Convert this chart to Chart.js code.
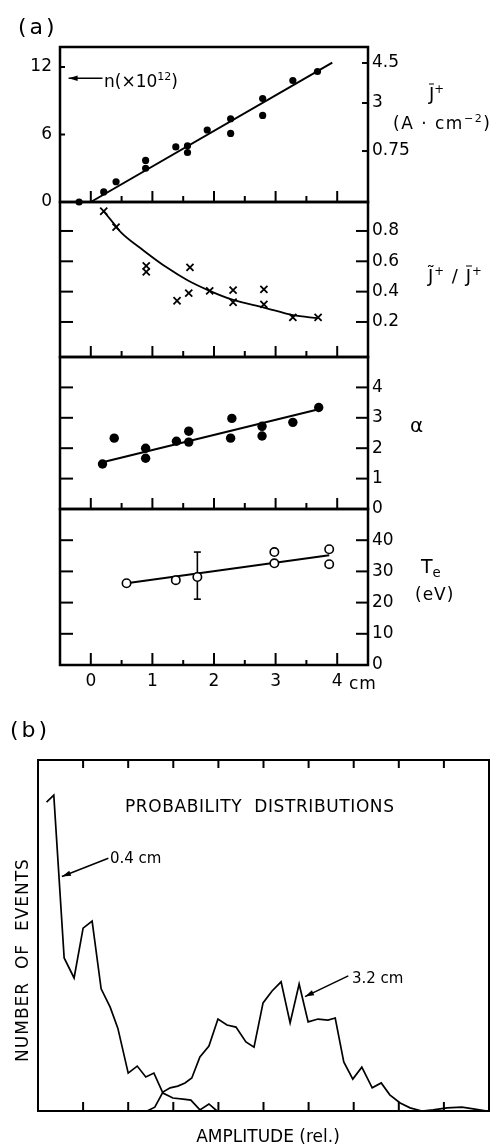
<!DOCTYPE html>
<html><head><meta charset="utf-8">
<script src="https://cdn.jsdelivr.net/npm/chart.js@4.4.1/dist/chart.umd.min.js"></script>
<style>
html,body{margin:0;padding:0;background:#fff}
body{position:relative;width:496px;height:1146px;overflow:hidden;font-family:'DejaVu Sans',sans-serif;color:#000}
canvas{position:absolute;left:0}
.lb{position:absolute;white-space:nowrap;line-height:1;transform:translateY(-50%)}
.lb sup{font-size:0.65em;vertical-align:0.55em;line-height:0}
.lb sub{font-size:0.7em;vertical-align:-0.35em;line-height:0}
.ob{display:inline-block;border-top:1.5px solid #000;padding-top:1px;line-height:0.9}
</style></head><body>
<canvas id="p1" width="496" height="195" style="top:27px"></canvas>
<canvas id="p2" width="496" height="195" style="top:182px"></canvas>
<canvas id="p3" width="496" height="192" style="top:337px"></canvas>
<canvas id="p4" width="496" height="211" style="top:489px"></canvas>
<canvas id="pb" width="496" height="406" style="top:740px"></canvas>

<div class="lb" style="left:18px;top:27px;font-size:22px;letter-spacing:3px">(a)</div>
<div class="lb" style="left:104px;top:81px;font-size:17px">n(×10<sup>12</sup>)</div>
<div class="lb" style="left:429px;top:93px;font-size:18px"><span class="ob">J</span><sup>+</sup></div>
<div class="lb" style="left:393px;top:123px;font-size:17px;letter-spacing:1.5px">(A · cm<sup>−2</sup>)</div>
<div class="lb" style="left:428px;top:275px;font-size:18px;letter-spacing:1px">J̃<sup>+</sup> / <span class="ob">J</span><sup>+</sup></div>
<div class="lb" style="left:410px;top:425px;font-size:20px">α</div>
<div class="lb" style="left:421px;top:566px;font-size:19px">T<sub>e</sub></div>
<div class="lb" style="left:415px;top:594px;font-size:17px;letter-spacing:1px">(eV)</div>
<div class="lb" style="left:349px;top:683px;font-size:17px;letter-spacing:1px">cm</div>

<div class="lb" style="left:10px;top:730px;font-size:22px;letter-spacing:3px">(b)</div>
<div class="lb" style="left:125px;top:806px;font-size:17px;letter-spacing:0.6px">PROBABILITY&nbsp; DISTRIBUTIONS</div>
<div class="lb" style="left:110px;top:858px;font-size:15px">0.4 cm</div>
<div class="lb" style="left:352px;top:978px;font-size:15px">3.2 cm</div>
<div class="lb" style="left:22px;top:960px;font-size:17px;letter-spacing:1px;transform:translate(-50%,-50%) rotate(-90deg)">NUMBER&nbsp; OF&nbsp; EVENTS</div>
<div class="lb" style="left:268px;top:1136px;font-size:17px;transform:translate(-50%,-50%)">AMPLITUDE (rel.)</div>

<script>
// ================= DATA =================
// Panel (a): radial position (cm)
const xRange = [-0.5, 4.5];
const xMajorTicks = [0, 1, 2, 3, 4];
const xMinorTicks = [0.5, 1.5, 2.5, 3.5];
const xTickLabels = ['0', '1', '2', '3', '4'];

// density n (x10^12)
const nPosX   = [-0.19, 0.21, 0.41, 0.89, 0.89, 1.38, 1.57, 1.57, 1.89, 2.27, 2.27, 2.79, 2.79, 3.28, 3.68];
const nValues = [0, 0.9, 1.8, 3.7, 3.0, 4.9, 5.0, 4.4, 6.4, 7.4, 6.1, 9.2, 7.7, 10.8, 11.6];
const nFitX = [0, 3.92];
const nFitY = [0, 12.4];
const nRange = [0, 13.78];
const nTicks = [0, 6, 12];
const nTickLabels = ['0', '6', '12'];
const jTickAt = [12.36, 8.8, 4.53];
const jTickLabels = ['4.5', '3', '0.75'];

// fluctuation ratio J~/J
const ratioX = [0.21, 0.41, 0.90, 0.90, 1.40, 1.59, 1.61, 1.93, 2.31, 2.31, 2.81, 2.81, 3.28, 3.69];
const ratioY = [0.93, 0.825, 0.57, 0.53, 0.34, 0.39, 0.56, 0.405, 0.41, 0.33, 0.415, 0.316, 0.23, 0.23];
const ratioCurveX = [0.21, 0.41, 0.49, 0.86, 1.23, 1.57, 1.93, 2.31, 2.81, 3.28, 3.69];
const ratioCurveY = [0.93, 0.83, 0.79, 0.67, 0.56, 0.475, 0.405, 0.345, 0.295, 0.245, 0.225];
const ratioRange = [-0.031, 0.991];
const ratioTicks = [0.2, 0.4, 0.6, 0.8];
const ratioTickLabels = ['0.2', '0.4', '0.6', '0.8'];

// alpha
const alphaX = [0.19, 0.38, 0.89, 0.89, 1.39, 1.59, 1.59, 2.29, 2.27, 2.78, 2.78, 3.28, 3.70];
const alphaY = [1.48, 2.33, 2.0, 1.67, 2.23, 2.56, 2.2, 2.98, 2.33, 2.72, 2.4, 2.85, 3.34];
const alphaFitX = [0.19, 3.70];
const alphaFitY = [1.54, 3.28];
const alphaRange = [0, 5];
const alphaTicks = [0, 1, 2, 3, 4];
const alphaTickLabels = ['0', '1', '2', '3', '4'];

// electron temperature Te (eV)
const teX = [0.58, 1.38, 1.73, 2.98, 2.98, 3.87, 3.87];
const teY = [26.2, 27.2, 28.2, 32.6, 36.2, 37.1, 32.3];
const teErrX = [1.73, 1.73];
const teErrY = [21.1, 36.2];
const teFitX = [0.58, 3.87];
const teFitY = [26.2, 35.2];
const teRange = [0, 50];
const teTicks = [0, 10, 20, 30, 40];
const teTickLabels = ['0', '10', '20', '30', '40'];

// Panel (b): probability distributions
const ampRange = [0, 10];
const countRange = [0, 100];
const ampTicks = [1, 2, 3, 4, 5, 6, 7, 8, 9];
const amp04X = [0.19, 0.35, 0.58, 0.80, 1.0, 1.2, 1.40, 1.60, 1.77, 2.0, 2.2, 2.39, 2.57, 2.77, 2.99, 3.22, 3.39, 3.59, 3.79, 3.97];
const amp04Y = [88, 90, 43.6, 37.9, 52.1, 54.1, 34.8, 29.6, 23.6, 10.8, 12.8, 9.7, 10.8, 5.1, 3.7, 3.4, 3.1, 0.3, 2.0, 0];
const amp32X = [2.42, 2.59, 2.77, 2.93, 3.10, 3.26, 3.41, 3.59, 3.79, 3.99, 4.19, 4.39, 4.61, 4.79, 4.99, 5.19, 5.39, 5.59, 5.79, 5.99, 6.21, 6.43, 6.59, 6.78, 6.98, 7.18, 7.41, 7.61, 7.80, 8.03, 8.25, 8.51, 8.76, 9.07, 9.40, 9.65, 9.96];
const amp32Y = [0, 1.1, 5.4, 6.6, 7.1, 8.0, 9.4, 15.4, 18.5, 26.2, 24.5, 23.9, 19.7, 18.2, 30.8, 34.2, 36.8, 25.1, 36.2, 25.4, 26.2, 25.9, 26.5, 14.0, 9.1, 12.5, 6.6, 8.0, 4.6, 2.3, 0.9, 0, 0.3, 0.9, 1.1, 0.6, 0];

// annotation arrows (data units)
const nArrowFrom = [0.19, 11.0], nArrowTo = [-0.36, 11.0];
const arrow04From = [1.56, 72.0], arrow04To = [0.53, 66.8];
const arrow32From = [6.88, 38.5], arrow32To = [5.92, 32.6];

// ================= CHARTS =================
Chart.defaults.font.family = "'DejaVu Sans', sans-serif";
Chart.defaults.color = '#000';
const pts = (xs, ys) => xs.map((x, i) => ({x, y: ys[i]}));

const frameCfg = {};
Chart.register({
  id: 'frame',
  afterDatasetsDraw(chart) {
    const c = frameCfg[chart.canvas.id]; if (!c) return;
    const ctx = chart.ctx, a = chart.chartArea, xs = chart.scales.x, ys = chart.scales.y;
    ctx.save();
    ctx.strokeStyle = '#000'; ctx.fillStyle = '#000'; ctx.lineCap = 'butt';
    const seg = (x1, y1, x2, y2) => { ctx.beginPath(); ctx.moveTo(x1, y1); ctx.lineTo(x2, y2); ctx.stroke(); };
    ctx.lineWidth = c.tickWidth;
    (c.left || []).forEach(([vals, len]) => vals.forEach(v => { const y = ys.getPixelForValue(v); seg(a.left, y, a.left + len, y); }));
    (c.right || []).forEach(([vals, len]) => vals.forEach(v => { const y = ys.getPixelForValue(v); seg(a.right, y, a.right - len, y); }));
    (c.bottom || []).forEach(([vals, len]) => vals.forEach(v => { const x = xs.getPixelForValue(v); seg(x, a.bottom, x, a.bottom - len); }));
    (c.top || []).forEach(([vals, len]) => vals.forEach(v => { const x = xs.getPixelForValue(v); seg(x, a.top, x, a.top + len); }));
    ctx.lineWidth = c.boxWidth;
    ctx.strokeRect(a.left, a.top, a.right - a.left, a.bottom - a.top);
    (c.arrows || []).forEach(([from, to]) => {
      const x1 = xs.getPixelForValue(from[0]), y1 = ys.getPixelForValue(from[1]);
      const x2 = xs.getPixelForValue(to[0]), y2 = ys.getPixelForValue(to[1]);
      ctx.lineWidth = 1.5; seg(x1, y1, x2, y2);
      const ang = Math.atan2(y2 - y1, x2 - x1), L = 9, W = 2.8;
      ctx.beginPath(); ctx.moveTo(x2, y2);
      ctx.lineTo(x2 - L * Math.cos(ang) + W * Math.sin(ang), y2 - L * Math.sin(ang) - W * Math.cos(ang));
      ctx.lineTo(x2 - L * Math.cos(ang) - W * Math.sin(ang), y2 - L * Math.sin(ang) + W * Math.cos(ang));
      ctx.closePath(); ctx.fill();
    });
    ctx.restore();
  }
});

const setTicks = vals => s => { s.ticks = vals.map(v => ({value: v})); };
const tickFont = {size: 17};

function panel(id, cfg) {
  frameCfg[id] = cfg.frame;
  return new Chart(document.getElementById(id), {
    type: 'scatter',
    data: {datasets: cfg.datasets},
    options: {
      responsive: false, animation: false, devicePixelRatio: 1,
      layout: {padding: cfg.padding},
      plugins: {legend: {display: false}, tooltip: {enabled: false}},
      scales: {
        x: {
          type: 'linear', min: xRange[0], max: xRange[1], display: !!cfg.xLabels,
          grid: {display: false, drawTicks: false}, border: {display: false},
          afterBuildTicks: setTicks(xMajorTicks),
          afterFit: s => { if (cfg.xLabels) s.height = 30; },
          ticks: {callback: (v, i) => xTickLabels[i], padding: 6, font: tickFont, color: '#000', maxRotation: 0, autoSkip: false}
        },
        y: {
          type: 'linear', position: 'left', min: cfg.range[0], max: cfg.range[1],
          grid: {display: false, drawTicks: false}, border: {display: false},
          afterBuildTicks: setTicks(cfg.leftTicks),
          afterFit: s => { s.width = 60; },
          ticks: {display: !!cfg.leftLabels, callback: (v, i) => cfg.leftLabels ? cfg.leftLabels[i] : '', padding: 8, font: tickFont, color: '#000', autoSkip: false}
        },
        yr: {
          type: 'linear', position: 'right', min: cfg.range[0], max: cfg.range[1],
          grid: {display: false, drawTicks: false}, border: {display: false},
          afterBuildTicks: setTicks(cfg.rightTicks),
          afterFit: s => { s.width = 128; },
          ticks: {callback: (v, i) => cfg.rightLabels[i], padding: 4, font: tickFont, color: '#000', autoSkip: false}
        }
      }
    }
  });
}

const dots = (xs, ys, r) => ({data: pts(xs, ys), pointStyle: 'circle', pointRadius: r, pointBackgroundColor: '#000', pointBorderColor: '#000', pointBorderWidth: 0, clip: false});
const fitLine = (xs, ys, extra) => Object.assign({data: pts(xs, ys), showLine: true, borderColor: '#000', borderWidth: 2, pointRadius: 0, clip: false}, extra || {});
const xTicksBottom = [[xMajorTicks, 11], [xMinorTicks, 6]];

panel('p1', {
  padding: {top: 20, bottom: 20, left: 0, right: 0},
  range: nRange, leftTicks: nTicks, leftLabels: nTickLabels, rightTicks: jTickAt, rightLabels: jTickLabels,
  datasets: [dots(nPosX, nValues, 3.6), fitLine(nFitX, nFitY)],
  frame: {tickWidth: 2, boxWidth: 2.5, left: [[[6, 12], 5]], right: [[jTickAt, 6]], bottom: xTicksBottom, arrows: [[nArrowFrom, nArrowTo]]}
});

panel('p2', {
  padding: {top: 20, bottom: 20, left: 0, right: 0},
  range: ratioRange, leftTicks: ratioTicks, leftLabels: null, rightTicks: ratioTicks, rightLabels: ratioTickLabels,
  datasets: [
    {data: pts(ratioX, ratioY), pointStyle: 'crossRot', pointRadius: 5, pointBorderColor: '#000', pointBorderWidth: 1.8, clip: false},
    fitLine(ratioCurveX, ratioCurveY, {tension: 0.4, cubicInterpolationMode: 'monotone', borderWidth: 1.8})
  ],
  frame: {tickWidth: 2, boxWidth: 2.5, left: [[ratioTicks, 13]], right: [[ratioTicks, 12]], bottom: xTicksBottom}
});

panel('p3', {
  padding: {top: 20, bottom: 20, left: 0, right: 0},
  range: alphaRange, leftTicks: alphaTicks, leftLabels: null, rightTicks: alphaTicks, rightLabels: alphaTickLabels,
  datasets: [dots(alphaX, alphaY, 4.7), fitLine(alphaFitX, alphaFitY)],
  frame: {tickWidth: 2, boxWidth: 2.5, left: [[alphaTicks.slice(1), 13]], right: [[alphaTicks.slice(1), 12]], bottom: xTicksBottom}
});

panel('p4', {
  padding: {top: 20, bottom: 5, left: 0, right: 0},
  xLabels: true,
  range: teRange, leftTicks: teTicks, leftLabels: null, rightTicks: teTicks, rightLabels: teTickLabels,
  datasets: [
    {data: pts(teX, teY), pointStyle: 'circle', pointRadius: 4.2, pointBackgroundColor: '#fff', pointBorderColor: '#000', pointBorderWidth: 1.6, clip: false},
    {data: pts(teErrX, teErrY), showLine: true, borderColor: '#000', borderWidth: 1.6, pointStyle: 'line', pointRadius: 3.5, pointBorderColor: '#000', pointBorderWidth: 1.6, clip: false},
    fitLine(teFitX, teFitY)
  ],
  frame: {tickWidth: 2, boxWidth: 2.5, left: [[teTicks.slice(1), 13]], right: [[teTicks.slice(1), 12]], bottom: [[xMajorTicks, 12], [xMinorTicks, 5]]}
});

frameCfg.pb = {tickWidth: 2, boxWidth: 2, top: [[ampTicks, 8]], bottom: [[ampTicks, 9]], arrows: [[arrow04From, arrow04To], [arrow32From, arrow32To]]};
new Chart(document.getElementById('pb'), {
  type: 'scatter',
  data: {datasets: [
    {data: pts(amp04X, amp04Y), showLine: true, borderColor: '#000', borderWidth: 1.7, pointRadius: 0, clip: false},
    {data: pts(amp32X, amp32Y), showLine: true, borderColor: '#000', borderWidth: 1.7, pointRadius: 0, clip: false}
  ]},
  options: {
    responsive: false, animation: false, devicePixelRatio: 1,
    layout: {padding: {left: 38, right: 7, top: 20, bottom: 35}},
    plugins: {legend: {display: false}, tooltip: {enabled: false}},
    scales: {
      x: {type: 'linear', min: ampRange[0], max: ampRange[1], display: false},
      y: {type: 'linear', min: countRange[0], max: countRange[1], display: false}
    }
  }
});
</script>
</body></html>
